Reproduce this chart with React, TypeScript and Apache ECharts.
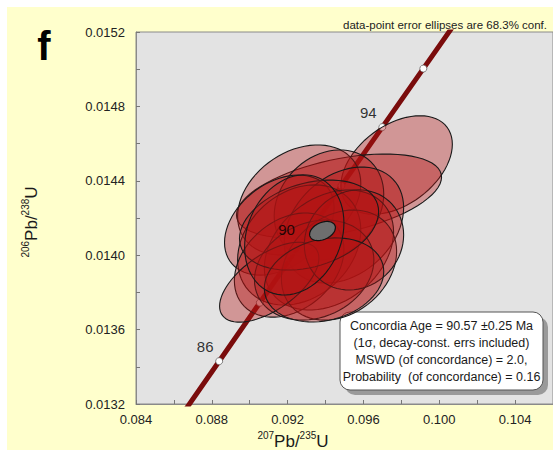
import React, { useEffect, useRef } from "react";
import * as echarts from "echarts";

// Concordia curve points (age in Ma, 207Pb/235U, 206Pb/238U)
const concordiaAges = [84, 86, 88, 90, 92, 94, 96, 98];
const concordiaX = [0.0862456, 0.0883874, 0.0905332, 0.0926834, 0.0948377, 0.0969963, 0.0991592, 0.1013264];
const concordiaY = [0.0131158, 0.0134301, 0.0137446, 0.0140592, 0.0143738, 0.0146886, 0.0150034, 0.0153184];
const markedAges = [86, 88, 90, 92, 94, 96];
const labeledAges = [86, 90, 94];

// Data-point error ellipses (centre, 1-sigma half extents, correlation)
const ellipseX = [0.09775, 0.09471, 0.09261, 0.09418, 0.09156, 0.09497, 0.09261, 0.09418, 0.09208, 0.09471, 0.0934, 0.09103, 0.0955, 0.09313, 0.09392, 0.09235];
const ellipseY = [0.014485, 0.014318, 0.014297, 0.01427, 0.014162, 0.014162, 0.014055, 0.014028, 0.013947, 0.013947, 0.01392, 0.013855, 0.014082, 0.014162, 0.013867, 0.014109];
const ellipseSX = [0.00294, 0.00541, 0.00325, 0.00289, 0.00289, 0.00315, 0.00325, 0.00341, 0.00289, 0.00304, 0.00315, 0.00262, 0.00262, 0.00367, 0.00315, 0.00262];
const ellipseSY = [0.000265, 0.000226, 0.000296, 0.000296, 0.000269, 0.000312, 0.000323, 0.000323, 0.00028, 0.000296, 0.000269, 0.000215, 0.000269, 0.000242, 0.000226, 0.000323];
const ellipseRho = [0.42, 0.45, 0.3, 0.2, 0.35, 0.3, 0.25, 0.3, 0.3, 0.25, 0.2, 0.6, 0.1, 0.3, 0.2, 0.2];

// Concordia age ellipse
const meanEllipse = [0.09384, 0.01413, 0.00068, 0.0000515, 0.35];

const xTicks = { min: 0.084, max: 0.106, interval: 0.004 };
const yTicks = { min: 0.0132, max: 0.0152, interval: 0.0004 };

const resultLines = [
  "Concordia Age = 90.57 \u00b10.25 Ma",
  "(1\u03c3, decay-const. errs included)",
  "MSWD (of concordance) = 2.0,",
  "Probability  (of concordance) = 0.16",
];

const FONT = '"Liberation Sans", Arial, sans-serif';

function ellipseRender(fill: string, stroke: string, lw: number) {
  return (params: any, api: any) => {
    const cx = api.value(0);
    const cy = api.value(1);
    const sx = api.value(2);
    const sy = api.value(3);
    const rho = api.value(4);
    const k = Math.sqrt(1 - rho * rho);
    const pts: number[][] = [];
    const N = 72;
    for (let i = 0; i < N; i++) {
      const t = (i / N) * Math.PI * 2;
      const dx = sx * Math.cos(t);
      const dy = sy * (rho * Math.cos(t) + k * Math.sin(t));
      pts.push(api.coord([cx + dx, cy + dy]));
    }
    return {
      type: "polygon",
      shape: { points: pts },
      style: { fill, stroke, lineWidth: lw },
    };
  };
}

export default function App() {
  const ref = useRef<HTMLDivElement>(null);
  useEffect(() => {
    if (!ref.current) return;
    const chart = echarts.init(ref.current, undefined, { renderer: "svg" });
    const concData = concordiaAges.map((a, i) => [concordiaX[i], concordiaY[i], a]);
    const dotData = markedAges.map((a) => {
      const i = concordiaAges.indexOf(a);
      return [concordiaX[i], concordiaY[i], a];
    });
    const labelData = labeledAges.map((a) => {
      const i = concordiaAges.indexOf(a);
      return [concordiaX[i], concordiaY[i], a];
    });
    const ellData = ellipseX.map((x, i) => [x, ellipseY[i], ellipseSX[i], ellipseSY[i], ellipseRho[i]]);

    chart.setOption({
      animation: false,
      backgroundColor: "#ffffff",
      grid: {
        left: 136,
        top: 32,
        right: -2,
        bottom: 46,
        show: true,
        backgroundColor: "#e3e3e3",
        borderColor: "#8a8a8a",
        borderWidth: 1,
      },
      xAxis: {
        type: "value",
        min: xTicks.min,
        max: xTicks.max,
        interval: xTicks.interval,
        axisLine: { show: true, lineStyle: { color: "#8a8a8a" } },
        axisTick: { show: true, inside: true, length: 4, lineStyle: { color: "#777" } },
        minorTick: { show: true, splitNumber: 2, length: 4, lineStyle: { color: "#777" } },
        splitLine: { show: false },
        axisLabel: {
          margin: 9,
          fontSize: 13,
          fontFamily: FONT,
          color: "#222",
          showMaxLabel: false,
          formatter: (v: number) => v.toFixed(3),
        },
      },
      yAxis: {
        type: "value",
        min: yTicks.min,
        max: yTicks.max,
        interval: yTicks.interval,
        axisLine: { show: true, lineStyle: { color: "#8a8a8a" } },
        axisTick: { show: true, inside: true, length: 4, lineStyle: { color: "#777" } },
        minorTick: { show: true, splitNumber: 2, length: 4, lineStyle: { color: "#777" } },
        splitLine: { show: false },
        axisLabel: {
          margin: 11,
          fontSize: 13,
          fontFamily: FONT,
          color: "#222",
          formatter: (v: number) => v.toFixed(4),
        },
      },
      series: [
        {
          type: "line",
          data: concData,
          z: 1,
          symbol: "none",
          clip: true,
          lineStyle: { color: "#7a0c0c", width: 5 },
        },
        {
          type: "scatter",
          data: dotData,
          z: 1,
          symbolSize: 7,
          itemStyle: { color: "#ffffff", borderColor: "#666", borderWidth: 0.8, opacity: 1 },
        },
        {
          type: "custom",
          data: ellData,
          z: 3,
          renderItem: ellipseRender("rgba(180,20,20,0.37)", "#1a1a1a", 1.1),
        },
        {
          type: "custom",
          data: [meanEllipse],
          z: 4,
          renderItem: ellipseRender("#6e6e6e", "#111", 1.2),
        },
        {
          type: "scatter",
          data: labelData,
          z: 5,
          symbolSize: 1,
          itemStyle: { color: "rgba(0,0,0,0)" },
          label: {
            show: true,
            position: "inside",
            offset: [-14, -15],
            formatter: (p: any) => String(p.value[2]),
            fontSize: 15,
            fontFamily: FONT,
            color: "#000",
            textBorderWidth: 0,
          },
        },
      ],
      graphic: [
        {
          type: "rect",
          z: -10,
          silent: true,
          shape: { x: 7, y: 7, width: 546, height: 443 },
          style: { fill: "#ffffcc" },
        },
        {
          type: "text",
          x: 44,
          y: 46,
          style: {
            text: "f",
            fontSize: 40,
            fontWeight: "bold",
            fontFamily: FONT,
            fill: "#000",
            align: "center",
            verticalAlign: "middle",
          },
        },
        {
          type: "text",
          x: 547,
          y: 25,
          style: {
            text: "data-point error ellipses are 68.3% conf.",
            fontSize: 11.5,
            fontFamily: FONT,
            fill: "#222",
            align: "right",
            verticalAlign: "middle",
          },
        },
        {
          type: "text",
          x: 293,
          y: 440,
          style: {
            text: "{s|207}{m|Pb/}{s|235}{m|U}",
            align: "center",
            verticalAlign: "middle",
            fontFamily: FONT,
            fill: "#1a1a1a",
            rich: {
              s: { fontSize: 10, fontFamily: FONT, fill: "#1a1a1a", verticalAlign: "top", lineHeight: 20 },
              m: { fontSize: 17, fontFamily: FONT, fill: "#1a1a1a", verticalAlign: "bottom", lineHeight: 20 },
            },
          },
        },
        {
          type: "text",
          x: 30,
          y: 222,
          rotation: Math.PI / 2,
          style: {
            text: "{s|206}{m|Pb/}{s|238}{m|U}",
            align: "center",
            verticalAlign: "middle",
            fontFamily: FONT,
            fill: "#1a1a1a",
            rich: {
              s: { fontSize: 10, fontFamily: FONT, fill: "#1a1a1a", verticalAlign: "top", lineHeight: 20 },
              m: { fontSize: 17, fontFamily: FONT, fill: "#1a1a1a", verticalAlign: "bottom", lineHeight: 20 },
            },
          },
        },
        {
          type: "group",
          x: 340,
          y: 312,
          z: 100,
          children: [
            {
              type: "rect",
              shape: { x: 5, y: 5, width: 203, height: 78, r: 10 },
              style: { fill: "#9a9a9a" },
            },
            {
              type: "rect",
              shape: { x: 0, y: 0, width: 203, height: 78, r: 10 },
              style: { fill: "#ffffff", stroke: "#555", lineWidth: 1 },
            },
            {
              type: "text",
              x: 101.5,
              y: 39.5,
              style: {
                text: resultLines.join("\n"),
                fontSize: 12.5,
                lineHeight: 17,
                fontFamily: FONT,
                fill: "#1a1a1a",
                align: "center",
                verticalAlign: "middle",
              },
            },
          ],
        },
      ],
    });
    return () => chart.dispose();
  }, []);
  return (
    <div
      ref={ref}
      style={{ position: "absolute", left: 0, top: 0, width: 553, height: 450 }}
    />
  );
}
